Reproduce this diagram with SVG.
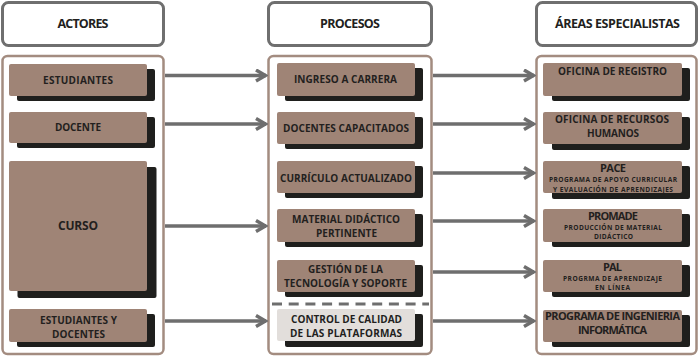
<svg xmlns="http://www.w3.org/2000/svg" width="700" height="356" viewBox="0 0 700 356">
<defs>
<style>
.hdr{fill:#fff;stroke:#6f6f6f;stroke-width:3}
.cont{fill:#fff;stroke:#a38c80;stroke-width:2.5}
.box{fill:#9f8476}
.light{fill:#e2dedb}
.sh{fill:#1f1f1d}
text{font-family:"Open Sans","Noto Sans",sans-serif;font-weight:700;fill:#231f1e;text-anchor:middle}
.h{font-size:12.5px}
.t{font-size:10px}
.b{font-size:12px}
.bt{font-size:11px}
.s{font-size:6.6px}
.conn{stroke:#6e6e6e;stroke-width:3.5;fill:none}
</style>
<marker id="arr" markerUnits="userSpaceOnUse" viewBox="0 0 14 14" markerWidth="14" markerHeight="14" refX="12" refY="7" orient="auto">
<path d="M2,1.5 L11.5,7 L2,12.5" fill="none" stroke="#6e6e6e" stroke-width="3.5"/>
</marker>
</defs>

<g id="hdr-actores"><rect class="hdr" x="2.5" y="2.5" width="161" height="43" rx="6"/><text class="h" x="83" y="28" textLength="51">ACTORES</text></g>
<g id="hdr-procesos"><rect class="hdr" x="268.5" y="2.5" width="163" height="43" rx="6"/><text class="h" x="350" y="28" textLength="60">PROCESOS</text></g>
<g id="hdr-areas"><rect class="hdr" x="536.5" y="2.5" width="160" height="43" rx="6"/><text class="h" x="617.5" y="28" textLength="125">ÁREAS ESPECIALISTAS</text></g>

<g id="cont-actores"><rect class="cont" x="2.5" y="56" width="161" height="298" rx="5"/></g>
<g id="cont-procesos"><rect class="cont" x="268.5" y="56" width="163" height="298" rx="5"/></g>
<g id="cont-areas"><rect class="cont" x="536.5" y="56" width="160" height="298" rx="5"/></g>

<g id="a-estudiantes"><rect class="sh" x="17" y="69" width="138" height="32" rx="2"/><rect class="box" x="9" y="64" width="138" height="32" rx="2"/><text class="t" x="78" y="83.5" textLength="70">ESTUDIANTES</text></g>
<g id="a-docente"><rect class="sh" x="17" y="117" width="138" height="31" rx="2"/><rect class="box" x="9" y="112" width="138" height="31" rx="2"/><text class="t" x="78" y="131" textLength="46">DOCENTE</text></g>
<g id="a-curso"><rect class="sh" x="17.5" y="167" width="139" height="131" rx="2"/><rect class="box" x="9" y="161" width="138" height="130" rx="2"/><text class="b" x="78" y="230" textLength="40">CURSO</text></g>
<g id="a-estdoc"><rect class="sh" x="17" y="314" width="138" height="33" rx="2"/><rect class="box" x="9" y="309" width="138" height="33" rx="2"/><text class="t" x="78.5" y="324" textLength="77">ESTUDIANTES Y</text><text class="t" x="78.5" y="337.5" textLength="53">DOCENTES</text></g>

<g id="p-ingreso"><rect class="sh" x="285" y="68" width="138" height="33" rx="2"/><rect class="box" x="277" y="63" width="138" height="33" rx="2"/><text class="t" x="345.5" y="83" textLength="103">INGRESO A CARRERA</text></g>
<g id="p-docentes"><rect class="sh" x="285" y="117" width="138" height="32" rx="2"/><rect class="box" x="277" y="112" width="138" height="32" rx="2"/><text class="t" x="346" y="132" textLength="126">DOCENTES CAPACITADOS</text></g>
<g id="p-curriculo"><rect class="sh" x="285" y="166" width="138" height="32" rx="2"/><rect class="box" x="277" y="161" width="138" height="32" rx="2"/><text class="t" x="346" y="181.5" textLength="132">CURRÍCULO ACTUALIZADO</text></g>
<g id="p-material"><rect class="sh" x="285" y="214" width="138" height="33" rx="2"/><rect class="box" x="277" y="209" width="138" height="33" rx="2"/><text class="t" x="346" y="223" textLength="108">MATERIAL DIDÁCTICO</text><text class="t" x="346.5" y="237" textLength="61">PERTINENTE</text></g>
<g id="p-gestion"><rect class="sh" x="285" y="265" width="138" height="32" rx="2"/><rect class="box" x="277" y="260" width="138" height="32" rx="2"/><text class="t" x="345.5" y="273" textLength="75">GESTIÓN DE LA</text><text class="t" x="345.5" y="287" textLength="123">TECNOLOGÍA Y SOPORTE</text></g>
<g id="p-control"><rect class="sh" x="285" y="314" width="138" height="33" rx="2"/><rect class="light" x="277" y="309" width="138" height="32" rx="2"/><text class="t" x="346.5" y="323" textLength="111">CONTROL DE CALIDAD</text><text class="t" x="346" y="337" textLength="112">DE LAS PLATAFORMAS</text></g>

<g id="r-registro"><rect class="sh" x="552" y="68" width="138" height="33" rx="2"/><rect class="box" x="543" y="63" width="139" height="33" rx="2"/><text class="t" x="612.5" y="75" textLength="109">OFICINA DE REGISTRO</text></g>
<g id="r-rrhh"><rect class="sh" x="552" y="117" width="138" height="33" rx="2"/><rect class="box" x="543" y="112" width="139" height="32" rx="2"/><text class="t" x="612" y="123" textLength="114">OFICINA DE RECURSOS</text><text class="t" x="613" y="137" textLength="52">HUMANOS</text></g>
<g id="r-pace"><rect class="sh" x="552" y="166" width="138" height="33" rx="2"/><rect class="box" x="543" y="161" width="139" height="32" rx="2"/><text class="bt" x="613" y="172" textLength="26">PACE</text><text class="s" x="613" y="182" textLength="128">PROGRAMA DE APOYO CURRICULAR</text><text class="s" x="613" y="191.5" textLength="120">Y EVALUACIÓN DE APRENDIZAJES</text></g>
<g id="r-promade"><rect class="sh" x="552" y="214" width="138" height="33" rx="2"/><rect class="box" x="543" y="209" width="139" height="33" rx="2"/><text class="bt" x="613" y="220" textLength="50">PROMADE</text><text class="s" x="613" y="230" textLength="98">PRODUCCIÓN DE MATERIAL</text><text class="s" x="613.5" y="239" textLength="39">DIDÁCTICO</text></g>
<g id="r-pal"><rect class="sh" x="552" y="265" width="138" height="32" rx="2"/><rect class="box" x="543" y="260" width="139" height="32" rx="2"/><text class="bt" x="612.5" y="271" textLength="19">PAL</text><text class="s" x="612.5" y="281" textLength="99">PROGRMA DE APRENDIZAJE</text><text class="s" x="612.5" y="290" textLength="35">EN LÍNEA</text></g>
<g id="r-ingenieria"><rect class="sh" x="552" y="315" width="138" height="32" rx="2"/><rect class="box" x="543" y="310" width="139" height="32" rx="2"/><text class="bt" x="612.5" y="319.5" textLength="135">PROGRAMA DE INGENIERIA</text><text class="bt" x="612.5" y="334" textLength="69">INFORMÁTICA</text></g>

<g id="connectors">
<line class="conn" x1="165" y1="75.5" x2="266" y2="75.5" marker-end="url(#arr)"/>
<line class="conn" x1="165" y1="124" x2="266" y2="124" marker-end="url(#arr)"/>
<line class="conn" x1="165" y1="226" x2="266" y2="226" marker-end="url(#arr)"/>
<line class="conn" x1="165" y1="321" x2="266" y2="321" marker-end="url(#arr)"/>
<line class="conn" x1="433" y1="75.5" x2="534" y2="75.5" marker-end="url(#arr)"/>
<line class="conn" x1="433" y1="124" x2="534" y2="124" marker-end="url(#arr)"/>
<line class="conn" x1="433" y1="173" x2="534" y2="173" marker-end="url(#arr)"/>
<line class="conn" x1="433" y1="221" x2="534" y2="221" marker-end="url(#arr)"/>
<line class="conn" x1="433" y1="272" x2="534" y2="272" marker-end="url(#arr)"/>
<line class="conn" x1="433" y1="321" x2="534" y2="321" marker-end="url(#arr)"/>
<line x1="272" y1="304" x2="429" y2="304" stroke="#6e6e6e" stroke-width="3" stroke-dasharray="10 6.7"/>
</g>
</svg>
